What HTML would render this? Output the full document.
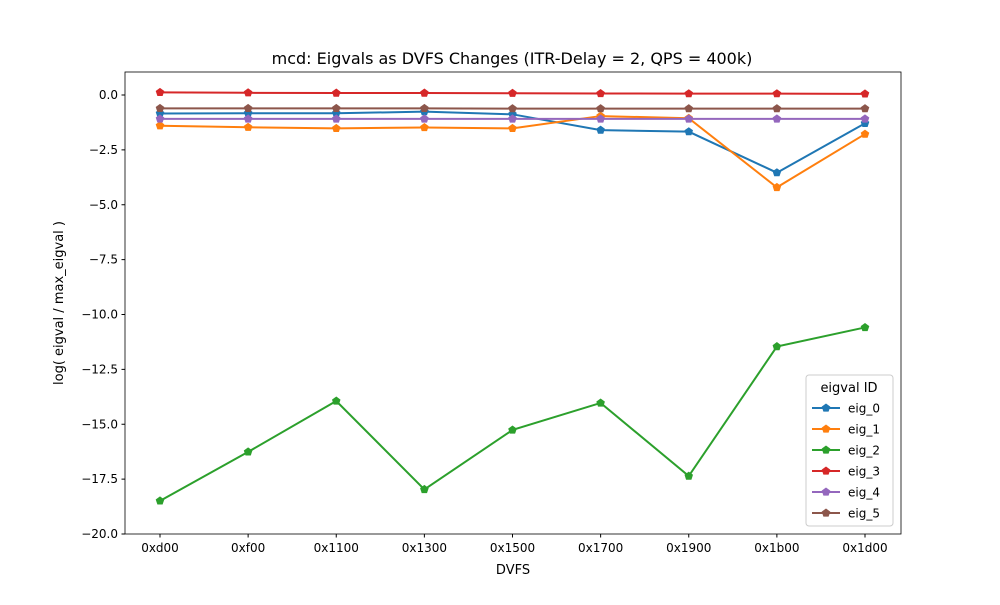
<!DOCTYPE html>
<html><head><meta charset="utf-8"><style>
body{margin:0;background:#fff;font-family:"Liberation Sans","DejaVu Sans",sans-serif;}
svg text{font-family:"DejaVu Sans","Liberation Sans",sans-serif;}
</style></head><body>
<svg id="chart" width="1000" height="600">
<rect x="0" y="0" width="1000" height="600" fill="#fff"/>
<text x="512" y="64" text-anchor="middle" font-size="16">mcd: Eigvals as DVFS Changes (ITR-Delay = 2, QPS = 400k)</text>
<g id="plot"></g>
</svg>
<script>
const categories=["0xd00","0xf00","0x1100","0x1300","0x1500","0x1700","0x1900","0x1b00","0x1d00"];
const seriesNames=["eig_0","eig_1","eig_2","eig_3","eig_4","eig_5"];
const eig0=[-0.84,-0.83,-0.83,-0.76,-0.88,-1.6,-1.67,-3.54,-1.29];
const eig1=[-1.4,-1.47,-1.52,-1.48,-1.52,-0.96,-1.06,-4.21,-1.78];
const eig2=[-18.49,-16.26,-13.94,-17.97,-15.26,-14.03,-17.36,-11.46,-10.59];
const eig3=[0.12,0.1,0.09,0.09,0.08,0.07,0.06,0.06,0.05];
const eig4=[-1.09,-1.09,-1.09,-1.09,-1.09,-1.09,-1.09,-1.09,-1.09];
const eig5=[-0.61,-0.61,-0.61,-0.61,-0.62,-0.62,-0.62,-0.62,-0.62];
const yTicks=[0,-2.5,-5,-7.5,-10,-12.5,-15,-17.5,-20];
const yTickLabels=["0.0","−2.5","−5.0","−7.5","−10.0","−12.5","−15.0","−17.5","−20.0"];
const colors=["#1f77b4","#ff7f0e","#2ca02c","#d62728","#9467bd","#8c564b"];
const series=[eig0,eig1,eig2,eig3,eig4,eig5];
const L=125,R=901,T=72,B=534;
const x=i=>160+i*(865-160)/(categories.length-1);
const y=v=>95+(0-v)*(534-95)/20;
const NS="http://www.w3.org/2000/svg";
const g=document.getElementById('plot');
function mk(t,a,p){const e=document.createElementNS(NS,t);for(const k in a)e.setAttribute(k,a[k]);(p||g).appendChild(e);return e;}
function pent(cx,cy,r){let p=[];for(let k=0;k<5;k++){const a=-Math.PI/2+k*2*Math.PI/5;p.push((cx+r*Math.cos(a)).toFixed(1)+","+(cy+r*Math.sin(a)).toFixed(1));}return p.join(" ");}
series.forEach((s,si)=>{
  const pl=mk('polyline',{points:s.map((v,i)=>x(i)+","+y(v)).join(" "),fill:"none",stroke:colors[si],"stroke-width":2});
  
  
  s.forEach((v,i)=>{const m=mk('polygon',{points:pent(x(i),y(v),4.5),fill:colors[si]});
    
    });
});
const fr=mk('rect',{x:L,y:T,width:R-L,height:B-T,fill:"none",stroke:"#000","stroke-width":0.8});


yTicks.forEach((v,i)=>{mk('line',{x1:L-3.5,x2:L,y1:y(v),y2:y(v),stroke:"#000"});
  const t=mk('text',{x:L-7,y:y(v)+4,"text-anchor":"end","font-size":12});t.textContent=yTickLabels[i];
  
  });
categories.forEach((c,i)=>{mk('line',{x1:x(i),x2:x(i),y1:B,y2:B+3.5,stroke:"#000"});
  const t=mk('text',{x:x(i),y:B+18,"text-anchor":"middle","font-size":12});t.textContent=c;
  
  });
const xt=mk('text',{x:513,y:574,"text-anchor":"middle","font-size":13});xt.textContent="DVFS";


const yt=mk('text',{x:0,y:0,"text-anchor":"middle","font-size":13,transform:"translate(63,303) rotate(-90)"});yt.textContent="log( eigval / max_eigval )";


const lg=mk('g',{});


mk('rect',{x:806,y:375,width:87,height:151,rx:3,fill:"#fff","fill-opacity":0.8,stroke:"#ccc"},lg);
const lt=mk('text',{x:849,y:392,"text-anchor":"middle","font-size":13},lg);lt.textContent="eigval ID";
seriesNames.forEach((n,i)=>{const yy=408+i*21;
  const e=mk('g',{},lg);
  
  
  mk('line',{x1:812,x2:840,y1:yy,y2:yy,stroke:colors[i],"stroke-width":2},e);
  mk('polygon',{points:pent(826,yy,4.5),fill:colors[i]},e);
  const t=mk('text',{x:848,y:yy+4.5,"font-size":12},e);t.textContent=n;});
</script>
</body></html>
